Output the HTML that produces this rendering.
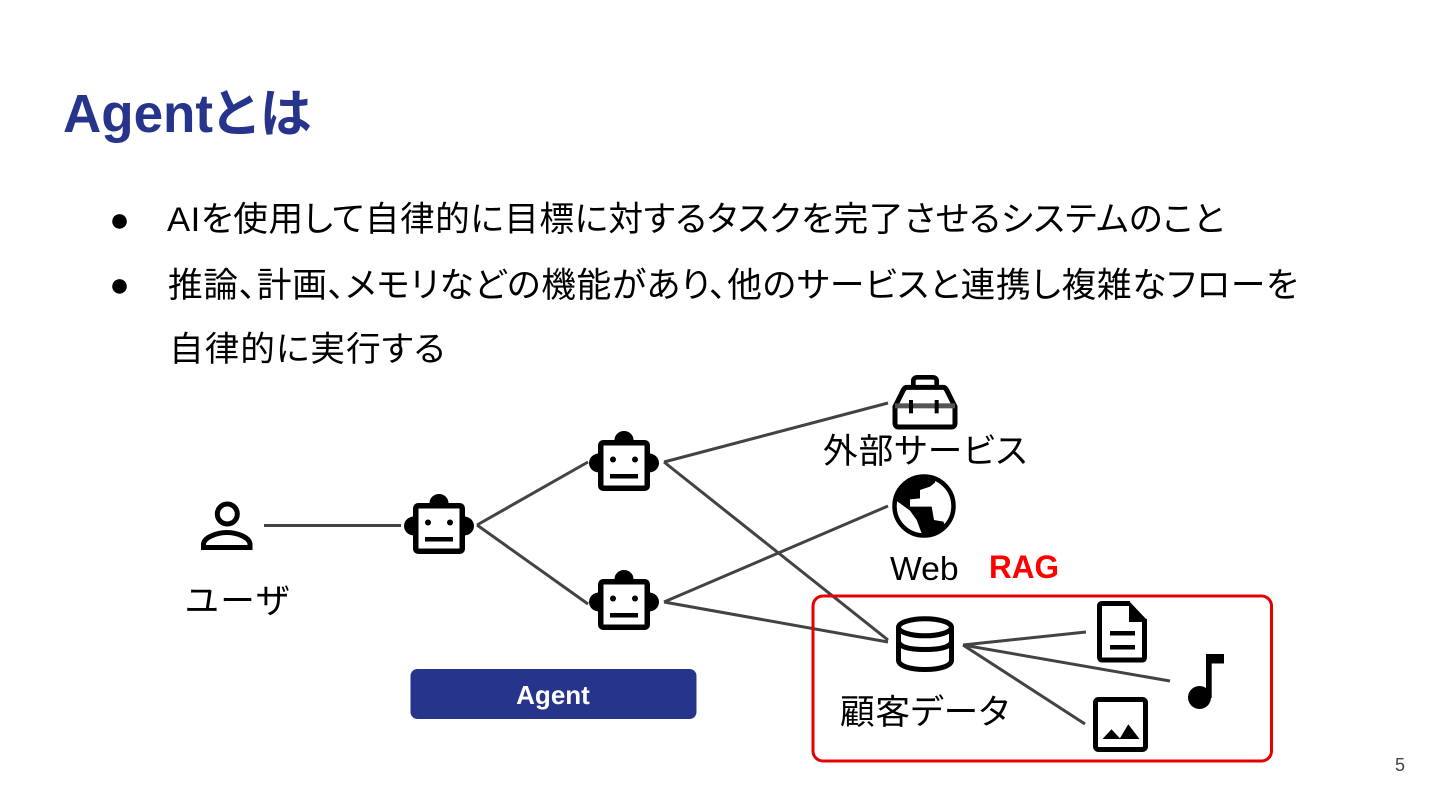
<!DOCTYPE html>
<html lang="ja"><head><meta charset="utf-8"><title>Agentとは</title>
<style>
html,body{margin:0;padding:0;background:#fff;width:1440px;height:810px;overflow:hidden}
svg{display:block}
text{font-family:"Liberation Sans","Noto Sans CJK JP",sans-serif;fill:#000}
.t{font-size:34.67px;font-feature-settings:"palt"}
</style></head><body>
<svg width="1440" height="810" viewBox="0 0 1440 810" xmlns="http://www.w3.org/2000/svg">
<defs>
<g id="robot">
<ellipse cx="0" cy="-25.500" rx="9.500" ry="9" fill="#000"/>
<ellipse cx="-25" cy="-2.500" rx="10" ry="9.500" fill="#000"/>
<ellipse cx="25" cy="-2.500" rx="10" ry="9.500" fill="#000"/>
<rect x="-23.250" y="-22.750" width="46.500" height="45.500" rx="2.500" fill="#fff" stroke="#000" stroke-width="5.500"/>
<circle cx="-11" cy="-6" r="3" fill="#000"/><circle cx="11" cy="-6" r="3" fill="#000"/>
<rect x="-14" y="8.500" width="28" height="4.500" fill="#000"/>
</g>
</defs>
<rect width="1440" height="810" fill="#fff"/>

<text x="63" y="132" font-weight="700" textLength="150" lengthAdjust="spacingAndGlyphs" style="fill:#27348b;font-size:54px">Agent</text>
<text x="213" y="132" font-weight="700" textLength="98" lengthAdjust="spacing" style="fill:#27348b;font-size:52px;font-feature-settings:'palt'">とは</text>

<text x="109.300" y="231" style="font-size:34px">●</text>
<text x="109.300" y="296" style="font-size:34px">●</text>
<text x="167" y="231" class="t" textLength="1057" lengthAdjust="spacing">AIを使用して自律的に目標に対するタスクを完了させるシステムのこと</text>
<text x="168" y="297" class="t" textLength="1130" lengthAdjust="spacing">推論、計画、メモリなどの機能があり、他のサービスと連携し複雑なフローを</text>
<text x="169" y="361" class="t" textLength="276" lengthAdjust="spacing">自律的に実行する</text>

<g stroke="#434343" stroke-width="3" fill="none" stroke-linecap="butt">
<line x1="264" y1="525.500" x2="401" y2="525.500"/>
<line x1="477" y1="525" x2="588" y2="462"/>
<line x1="477" y1="525" x2="588" y2="604"/>
<line x1="664" y1="462" x2="888" y2="640"/>
<line x1="664" y1="462" x2="888" y2="403"/>
<line x1="664" y1="602" x2="888" y2="506"/>
<line x1="664" y1="602" x2="888" y2="642"/>
<line x1="963" y1="645" x2="1086" y2="632"/>
<line x1="963" y1="645" x2="1170" y2="681"/>
<line x1="963" y1="645" x2="1085" y2="724"/>
</g>

<circle cx="227.300" cy="514" r="10" fill="none" stroke="#000" stroke-width="5"/>
<path d="M203.500 547.500V544.500C203.500 537 218 532.500 227 532.500S250 537 250 544.500V547.500Z" fill="none" stroke="#000" stroke-width="5"/>

<use href="#robot" x="439" y="528.500"/>
<use href="#robot" x="624" y="465.500"/>
<use href="#robot" x="624" y="604.500"/>

<g transform="translate(885 370) scale(.33333)">
<path d="M85 50V32C85 26 90 22 96 22H144C150 22 155 26 155 32V50" fill="none" stroke="#000" stroke-width="14"/>
<path d="M65 52H175C180 52 183 56 185 60L210 110V160C210 166 206 171 200 171H40C34 171 30 166 30 160V110L55 60C57 56 60 52 65 52Z" fill="#fff" stroke="#000" stroke-width="15"/>
<rect x="30" y="100" width="180" height="15" fill="#555"/>
<rect x="72" y="90" width="12" height="40" fill="#000"/>
<rect x="149" y="90" width="12" height="40" fill="#000"/>
</g>

<circle cx="924" cy="506" r="29.500" fill="#fff" stroke="#000" stroke-width="4.500"/>
<g transform="translate(885 470) scale(.33333)">
<path d="M40 60L85 25L150 20L150 38L135 50L105 60L105 85L75 88L75 110L140 110L147 150L175 155L182 170L150 198L110 190L95 150L75 122L38 95L30 90Z" fill="#000"/>
</g>

<text x="823" y="463" class="t" textLength="204" lengthAdjust="spacing">外部サービス</text>
<text x="890" y="580" style="font-size:33.700px">Web</text>
<text x="989" y="578" font-weight="700" textLength="70" lengthAdjust="spacingAndGlyphs" style="fill:#f00;font-size:32px">RAG</text>
<text x="185" y="613" class="t" textLength="104" lengthAdjust="spacing">ユーザ</text>
<text x="840" y="724" class="t" textLength="169" lengthAdjust="spacing">顧客データ</text>

<rect x="410.500" y="669" width="286" height="50" rx="7" fill="#27348b"/>
<text x="553" y="704" text-anchor="middle" font-weight="700" style="fill:#fff;font-size:26px">Agent</text>

<rect x="813" y="596" width="458.500" height="165" rx="10" fill="none" stroke="#e60000" stroke-width="3"/>

<g fill="none" stroke="#000" stroke-width="5">
<path d="M898.500 627V660C898.500 666 910 669.500 925 669.500S951.500 666 951.500 660V627"/>
<ellipse cx="925" cy="627.300" rx="26.500" ry="8.500"/>
<path d="M898.500 641C898.500 647 910 649.500 925 649.500S951.500 647 951.500 641"/>
</g>

<path d="M1130 603.500H1102C1100 603.500 1099.500 604.500 1099.500 606V657C1099.500 659 1100.500 660 1102 660H1142C1144 660 1144.500 659 1144.500 657V619" fill="none" stroke="#000" stroke-width="5"/>
<path d="M1129 601L1147 620V622H1129Z" fill="#000"/>
<rect x="1110" y="631" width="25" height="4.500" fill="#000"/>
<rect x="1110" y="645" width="25" height="4.500" fill="#000"/>

<rect x="1095.500" y="699.500" width="50" height="50" rx="3" fill="#fff" stroke="#000" stroke-width="5"/>
<path d="M1102.500 739L1111.500 729.300L1120.500 739Z" fill="#000"/>
<path d="M1119.500 739L1128.300 724.300L1139.500 739Z" fill="#000"/>

<circle cx="1199.500" cy="697.500" r="11.500" fill="#000"/>
<rect x="1206" y="654" width="5.700" height="44" fill="#000"/>
<rect x="1206" y="654" width="18" height="9.500" fill="#000"/>

<text x="1395" y="771" style="fill:#444;font-size:18px">5</text>
</svg>
</body></html>
